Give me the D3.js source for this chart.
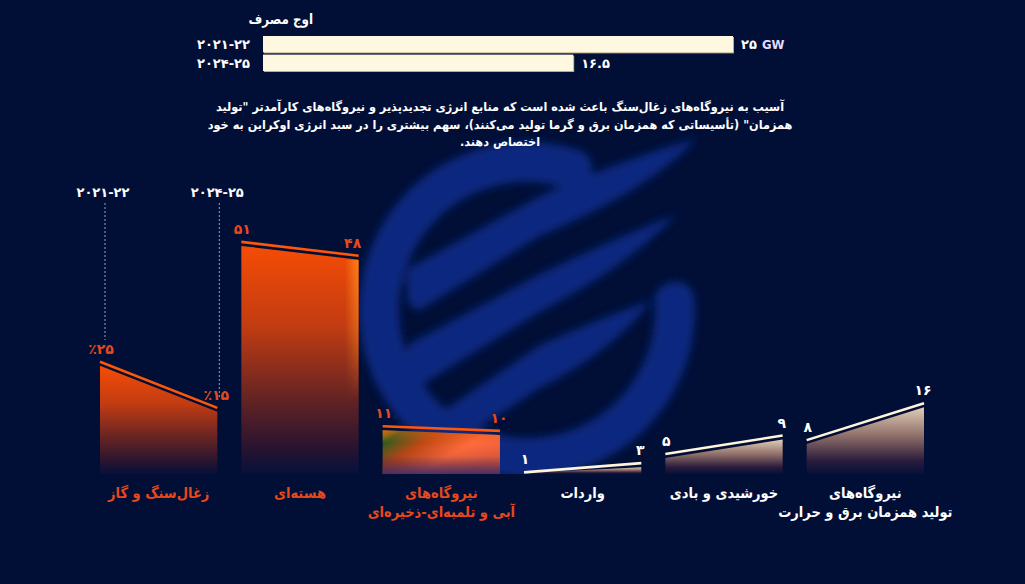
<!DOCTYPE html>
<html><head><meta charset="utf-8">
<script src="https://cdn.jsdelivr.net/npm/d3@7"></script>
<style>
html,body{margin:0;padding:0;background:#010f36;}
svg{display:block;}
text{font-family:"DejaVu Sans","Noto Sans",sans-serif;font-weight:bold;}
</style></head><body>
<svg id="chart" width="1025" height="584"></svg>
<script>
// ---------- data ----------
const peakTitle = "اوج مصرف";
const peakYears = ["۲۰۲۱-۲۲", "۲۰۲۴-۲۵"];
const peakValues = [25, 16.5];
const peakLabels = ["۲۵", "۱۶.۵"];
const peakUnit = "GW";

const noteLines = [
  "آسیب به نیروگاه\u200cهای زغال\u200cسنگ باعث شده است که منابع انرژی تجدیدپذیر و نیروگاه\u200cهای کارآمدتر \"تولید",
  "همزمان\" (تأسیساتی که همزمان برق و گرما تولید می\u200cکنند)، سهم بیشتری را در سبد انرژی اوکراین به خود",
  "اختصاص دهند."
];

const categories = ["coal", "nuclear", "hydro", "imports", "solar", "chp"];
const categoryLabels = [
  ["زغال\u200cسنگ و گاز"],
  ["هسته\u200cای"],
  ["نیروگاه\u200cهای", "آبی و تلمبه\u200cای-ذخیره\u200cای"],
  ["واردات"],
  ["خورشیدی و بادی"],
  ["نیروگاه\u200cهای", "تولید همزمان برق و حرارت"]
];
const values2021 = [25, 51, 11, 1, 5, 8];
const values2024 = [15, 48, 10, 3, 9, 16];
const labels2021 = ["٪۲۵", "۵۱", "۱۱", "۱", "۵", "۸"];
const labels2024 = ["٪۱۵", "۴۸", "۱۰", "۳", "۹", "۱۶"];
const styles = ["orange", "orange", "hydro", "cream", "cream", "cream"];
const periodLabels = ["۲۰۲۱-۲۲", "۲۰۲۴-۲۵"];

// ---------- setup ----------
const W = 1025, H = 584;
const BG = "#010f36";
const ORANGE = "#ff560a", ORANGE_TXT = "#e8481a", CREAM = "#fff4dc";
const svg = d3.select("#chart");
const defs = svg.append("defs");

svg.append("rect").attr("width", W).attr("height", H).attr("fill", BG);

// ---------- watermark (decorative logo) ----------
const blur = defs.append("filter").attr("id", "blur").attr("x", "-20%").attr("y", "-20%").attr("width", "140%").attr("height", "140%");
blur.append("feGaussianBlur").attr("stdDeviation", 4.5);
const wm = svg.append("g").attr("filter", "url(#blur)").attr("fill", "#0a2a86").attr("opacity", 0.92);
const arc = d3.arc().innerRadius(128).outerRadius(168).cornerRadius(18)
  .startAngle(Math.PI * 0.44).endAngle(Math.PI * 2.14);
wm.append("path").attr("d", arc()).attr("transform", "translate(527,310)");
wm.append("path").attr("d", "M408,288 Q402,268 420,262 L540,196 Q620,160 697,138 Q650,190 540,236 L420,310 Q404,308 408,288 Z");
wm.append("path").attr("d", "M408,364 Q402,344 420,338 L540,274 Q610,240 677,214 Q630,265 540,312 L420,386 Q404,384 408,364 Z");
wm.append("path").attr("d", "M418,428 L540,345 Q600,318 652,300 Q615,350 540,388 L442,452 Z");

// bottom band hides watermark below baseline
const BASE = 474;
svg.append("rect").attr("x", 0).attr("y", BASE).attr("width", W).attr("height", H - BASE).attr("fill", BG);

// ---------- top peak bars ----------
const px = d3.scaleLinear().domain([0, 25]).range([263, 733]);
const py = d3.scaleBand().domain(peakYears).range([36, 71]).paddingInner(0.12);
svg.append("text").attr("transform", "translate(313,24) scale(0.85,1)").attr("text-anchor", "end")
  .attr("fill", "#ffffff").attr("font-size", 14).text(peakTitle);
peakYears.forEach((yr, i) => {
  const y0 = py(yr), h = py.bandwidth();
  svg.append("rect").attr("x", px(0) + 1).attr("y", y0 + 1).attr("width", px(peakValues[i]) - px(0)).attr("height", h)
    .attr("fill", "#b9aa8c");
  svg.append("rect").attr("x", px(0)).attr("y", y0).attr("width", px(peakValues[i]) - px(0)).attr("height", h)
    .attr("fill", "#fff8e0");
  svg.append("text").attr("x", 250).attr("y", y0 + h / 2 + 5).attr("text-anchor", "end")
    .attr("fill", "#ffffff").attr("font-size", 13).text(yr);
  svg.append("text").attr("x", px(peakValues[i]) + 8).attr("y", y0 + h / 2 + 5).attr("text-anchor", "start")
    .attr("fill", "#ffffff").attr("font-size", 13).text(peakLabels[i]);
  if (i === 0) {
    svg.append("text").attr("x", px(peakValues[i]) + 29).attr("y", y0 + h / 2 + 5)
      .attr("fill", "#e4dcff").attr("font-size", 13).attr("font-weight", "normal")
      .style("font-family", "'Liberation Sans Narrow','DejaVu Sans Condensed',sans-serif").text(peakUnit);
  }
});

// ---------- note ----------
noteLines.forEach((l, i) => {
  svg.append("text").attr("transform", `translate(500,${111 + i * 17.5}) scale(0.925,1)`).attr("text-anchor", "middle")
    .attr("direction", "rtl").attr("fill", "#ffffff").attr("font-size", 12.2).text(l);
});

// ---------- main slope chart ----------
const x = d3.scaleBand().domain(categories).range([100, 924]).paddingInner(0.17).paddingOuter(0);
const y = d3.scaleLinear().domain([0, 51]).range([477, 477 - 4.61 * 51]);

// gradients
const gOr = defs.append("linearGradient").attr("id", "gOrange").attr("x1", 0).attr("y1", 0).attr("x2", 0).attr("y2", 1);
[[0, "#f54c05"], [0.35, "#c23c12"], [0.65, "#6a2522"], [0.88, "#2a1430"], [1, "#06103a"]]
  .forEach(([o, c]) => gOr.append("stop").attr("offset", o).attr("stop-color", c));
const gCr = defs.append("linearGradient").attr("id", "gCream").attr("x1", 0).attr("y1", 0).attr("x2", 0).attr("y2", 1);
[[0, "#e2cdb6"], [0.45, "#8a6a66"], [0.8, "#2a1c3c"], [1, "#06103a"]]
  .forEach(([o, c]) => gCr.append("stop").attr("offset", o).attr("stop-color", c));
const gHy = defs.append("linearGradient").attr("id", "gHydro").attr("x1", 0).attr("y1", 0).attr("x2", 1).attr("y2", 0.6);
[[0, "#c07a10"], [0.13, "#2c5c20"], [0.38, "#c04814"], [0.68, "#ff6a3c"], [1, "#ec5e3c"]]
  .forEach(([o, c]) => gHy.append("stop").attr("offset", o).attr("stop-color", c));
const gHyV = defs.append("linearGradient").attr("id", "gHydroV").attr("x1", 0).attr("y1", 0).attr("x2", 0).attr("y2", 1);
[[0, "#e86010", 0.55], [0.3, "#e86010", 0], [0.6, "#2a1848", 0.1], [1, "#3a2a6a", 0.9]]
  .forEach(([o, c, a]) => gHyV.append("stop").attr("offset", o).attr("stop-color", c).attr("stop-opacity", a));
const gGlow = defs.append("linearGradient").attr("id", "gGlow").attr("x1", 0).attr("y1", 0).attr("x2", 1).attr("y2", 0);
[[0, "#ff8a20", 0], [1, "#ff8a20", 0.85]]
  .forEach(([o, c, a]) => gGlow.append("stop").attr("offset", o).attr("stop-color", c).attr("stop-opacity", a));
const gGlowMask = defs.append("linearGradient").attr("id", "gGlowMask").attr("x1", 0).attr("y1", 0).attr("x2", 0).attr("y2", 1);
[[0, "#fff", 1], [0.5, "#fff", 0.6], [1, "#fff", 0]]
  .forEach(([o, c, a]) => gGlowMask.append("stop").attr("offset", o).attr("stop-color", c).attr("stop-opacity", a));

// period guide lines & labels
const firstBand = categories[0];
const guideX = [x(firstBand) + 5, x(firstBand) + x.bandwidth() + 2];
const guideEnd = [340, 398];
periodLabels.forEach((p, i) => {
  svg.append("line").attr("x1", guideX[i]).attr("x2", guideX[i]).attr("y1", 203).attr("y2", guideEnd[i])
    .attr("stroke", "#9aa0b8").attr("stroke-width", 1).attr("stroke-dasharray", "2,2");
  svg.append("text").attr("x", guideX[i] - 2).attr("y", 197).attr("text-anchor", "middle")
    .attr("fill", "#ffffff").attr("font-size", 13).text(p);
});

categories.forEach((c, i) => {
  const x0 = x(c), x1 = x(c) + x.bandwidth();
  const v0 = values2021[i], v1 = values2024[i];
  const st = styles[i];
  const fillTop0 = Math.min(y(v0) + 4, BASE - 1), fillTop1 = Math.min(y(v1) + 4, BASE - 1);
  const poly = `M${x0},${fillTop0} L${x1},${fillTop1} L${x1},${BASE} L${x0},${BASE} Z`;
  const fill = st === "orange" ? "url(#gOrange)" : st === "hydro" ? "url(#gHydro)" : "url(#gCream)";
  svg.append("path").attr("d", poly).attr("fill", fill);
  if (st === "hydro") svg.append("path").attr("d", poly).attr("fill", "url(#gHydroV)");
  if (c === "nuclear") {
    const m = defs.append("mask").attr("id", "glowMask");
    m.append("rect").attr("x", x1 - 14).attr("y", fillTop1).attr("width", 14).attr("height", 140).attr("fill", "url(#gGlowMask)");
    svg.append("rect").attr("x", x1 - 14).attr("y", fillTop1).attr("width", 14).attr("height", 140)
      .attr("fill", "url(#gGlow)").attr("mask", "url(#glowMask)");
  }
  const lineCol = st === "cream" ? CREAM : ORANGE;
  svg.append("line").attr("x1", x0).attr("y1", y(v0)).attr("x2", x1).attr("y2", y(v1))
    .attr("stroke", lineCol).attr("stroke-width", 2.6);

  const txtCol = st === "cream" ? "#ffffff" : ORANGE_TXT;
  svg.append("text").attr("x", x0 + 1).attr("y", y(v0) - 8).attr("text-anchor", "middle")
    .attr("fill", txtCol).attr("font-size", 14).text(labels2021[i]);
  svg.append("text").attr("x", x1 - (c === "nuclear" ? 6 : 1)).attr("y", y(v1) - 8).attr("text-anchor", "middle")
    .attr("fill", txtCol).attr("font-size", 14).text(labels2024[i]);

  categoryLabels[i].forEach((l, j) => {
    svg.append("text").attr("transform", `translate(${(x0 + x1) / 2},${498 + j * 19}) scale(0.9,1)`)
      .attr("text-anchor", "middle").attr("direction", "rtl").attr("fill", txtCol).attr("font-size", 14.5).text(l);
  });
});
</script>
</body></html>
